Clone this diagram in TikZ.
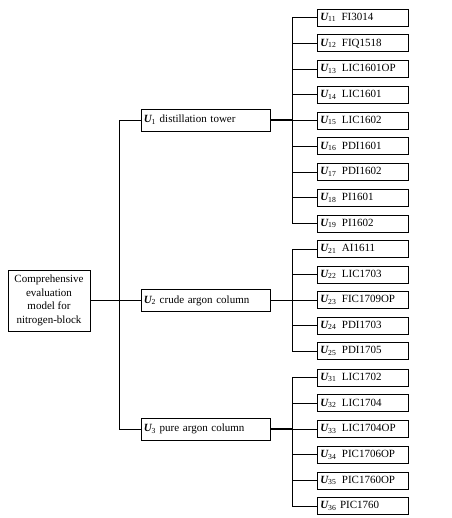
\documentclass[tikz,border=0pt]{standalone}
\usepackage{fontspec}
\setmainfont{Liberation Serif}
\usetikzlibrary{positioning}
\newcommand{\uvar}[1]{{\bfseries\itshape U}\textsubscript{#1}}

\begin{document}
\begin{tikzpicture}[x=1pt, y=-1pt, line width=0.5pt,
    font=\fontsize{11}{13.5}\selectfont,
    rootbox/.style={draw, align=center, minimum width=82pt, minimum height=61pt, inner sep=1pt},
    groupbox/.style={draw, anchor=west, text width=124pt, inner xsep=2.5pt, minimum height=22pt, align=left},
    leafbox/.style={draw, anchor=west, text width=85pt, inner xsep=3pt, minimum height=17pt, inner ysep=1pt, align=left},
    heavy/.style={line width=1.3pt}]
  \useasboundingbox (0,0) rectangle (451,518);
  % root and the three parts
  \node [rootbox] (root) at (49,300.5) {Comprehensive\\evaluation\\model for\\nitrogen-block};
  \node [groupbox] (u1) at (141,120) {\uvar{1} distillation tower};
  \node [groupbox] (u2) at (141,300.5) {\uvar{2} crude argon column};
  \node [groupbox] (u3) at (141,429) {\uvar{3} pure argon column};
  \draw (root.east) -- (u2.west);
  \draw (u1.west) -- ++(-22,0) |- (u3.west);
  \draw [heavy] (u1.east) -- ++(22,0) coordinate (b1);
  \draw (u2.east) -- ++(22,0) coordinate (b2);
  \draw [heavy] (u3.east) -- ++(22,0) coordinate (b3);
  % indicators
  \foreach \k/\lbl [count=\i] in {11/\enspace FI3014, 12/\enspace FIQ1518,
      13/\enspace LIC1601OP, 14/\enspace LIC1601, 15/\enspace LIC1602,
      16/\enspace PDI1601, 17/\enspace PDI1602, 18/\enspace PI1601, 19/\enspace PI1602}
    {\node [leafbox] (u\k) at (317,{17.5+25.75*(\i-1)}) {\uvar{\k}\lbl};
     \draw (b1) |- (u\k.west);}
  \foreach \k/\lbl [count=\i] in {21/\enspace AI1611, 22/\enspace LIC1703,
      23/\enspace FIC1709OP, 24/\enspace PDI1703, 25/\enspace PDI1705}
    {\node [leafbox] (u\k) at (317,{249+25.5*(\i-1)}) {\uvar{\k}\lbl};
     \draw (b2) |- (u\k.west);}
  \foreach \k/\lbl [count=\i] in {31/\enspace LIC1702, 32/\enspace LIC1704,
      33/\enspace LIC1704OP, 34/\enspace PIC1706OP, 35/\enspace PIC1760OP, 36/\ PIC1760}
    {\node [leafbox] (u\k) at (317,{377.5+25.7*(\i-1)}) {\uvar{\k}\lbl};
     \draw (b3) |- (u\k.west);}
\end{tikzpicture}
\end{document}
